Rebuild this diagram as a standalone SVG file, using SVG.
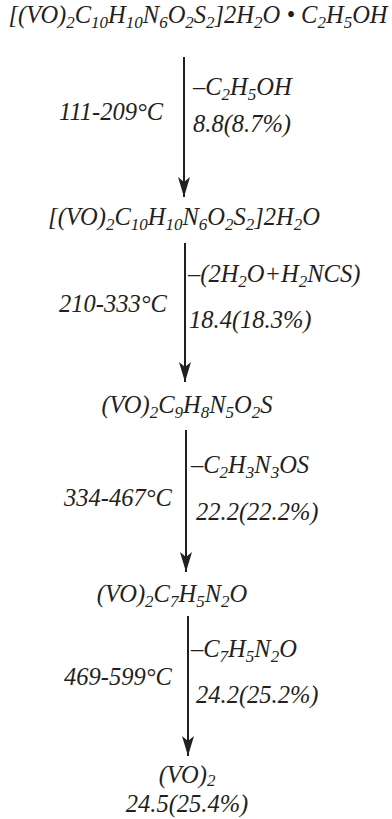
<svg xmlns="http://www.w3.org/2000/svg" width="392" height="819" viewBox="0 0 392 819">
<style>
.t{font-family:"Liberation Serif","Times New Roman",serif;font-style:italic;font-size:24.5px;fill:#231f20}
.s{font-size:17px}
.c{stroke:#231f20;stroke-width:2;fill:none}
</style>
<defs>
<marker id="ah" viewBox="-1 -7 22 14" markerWidth="22" markerHeight="14" refX="20" refY="0" orient="auto" markerUnits="userSpaceOnUse">
<path d="M0,-6 L20,0 L0,6 L5,0 Z" fill="#231f20"/>
</marker>
</defs>
<rect width="392" height="819" fill="#fff"/>
<g id="n1"><text class="t" x="198" y="23" text-anchor="middle">[(VO)<tspan class="s" dy="5">2</tspan><tspan dy="-5">C</tspan><tspan class="s" dy="5">10</tspan><tspan dy="-5">H</tspan><tspan class="s" dy="5">10</tspan><tspan dy="-5">N</tspan><tspan class="s" dy="5">6</tspan><tspan dy="-5">O</tspan><tspan class="s" dy="5">2</tspan><tspan dy="-5">S</tspan><tspan class="s" dy="5">2</tspan><tspan dy="-5">]2H</tspan><tspan class="s" dy="5">2</tspan><tspan dy="-5">O • C</tspan><tspan class="s" dy="5">2</tspan><tspan dy="-5">H</tspan><tspan class="s" dy="5">5</tspan><tspan dy="-5">OH</tspan></text></g>
<g id="n2"><text class="t" x="184" y="225" text-anchor="middle">[(VO)<tspan class="s" dy="5">2</tspan><tspan dy="-5">C</tspan><tspan class="s" dy="5">10</tspan><tspan dy="-5">H</tspan><tspan class="s" dy="5">10</tspan><tspan dy="-5">N</tspan><tspan class="s" dy="5">6</tspan><tspan dy="-5">O</tspan><tspan class="s" dy="5">2</tspan><tspan dy="-5">S</tspan><tspan class="s" dy="5">2</tspan><tspan dy="-5">]2H</tspan><tspan class="s" dy="5">2</tspan><tspan dy="-5">O</tspan></text></g>
<g id="n3"><text class="t" x="187" y="413" text-anchor="middle">(VO)<tspan class="s" dy="5">2</tspan><tspan dy="-5">C</tspan><tspan class="s" dy="5">9</tspan><tspan dy="-5">H</tspan><tspan class="s" dy="5">8</tspan><tspan dy="-5">N</tspan><tspan class="s" dy="5">5</tspan><tspan dy="-5">O</tspan><tspan class="s" dy="5">2</tspan><tspan dy="-5">S</tspan></text></g>
<g id="n4"><text class="t" x="172" y="602" text-anchor="middle">(VO)<tspan class="s" dy="5">2</tspan><tspan dy="-5">C</tspan><tspan class="s" dy="5">7</tspan><tspan dy="-5">H</tspan><tspan class="s" dy="5">5</tspan><tspan dy="-5">N</tspan><tspan class="s" dy="5">2</tspan><tspan dy="-5">O</tspan></text></g>
<g id="n5"><text class="t" x="187" y="783" text-anchor="middle">(VO)<tspan class="s" dy="3">2</tspan></text><text class="t" x="187" y="812" text-anchor="middle">24.5(25.4%)</text></g>
<g id="connectors">
<line class="c" x1="184" y1="57" x2="184" y2="197" marker-end="url(#ah)"/>
<line class="c" x1="185" y1="243" x2="185" y2="382" marker-end="url(#ah)"/>
<line class="c" x1="186" y1="430" x2="186" y2="572" marker-end="url(#ah)"/>
<line class="c" x1="188" y1="616" x2="188" y2="756" marker-end="url(#ah)"/>
</g>
<g id="labels">
<text class="t" x="193" y="95">–C<tspan class="s" dy="5">2</tspan><tspan dy="-5">H</tspan><tspan class="s" dy="5">5</tspan><tspan dy="-5">OH</tspan></text>
<text class="t" x="59" y="120">111-209°C</text>
<text class="t" x="193" y="132">8.8(8.7%)</text>
<text class="t" x="188" y="282">–(2H<tspan class="s" dy="5">2</tspan><tspan dy="-5">O+H</tspan><tspan class="s" dy="5">2</tspan><tspan dy="-5">NCS)</tspan></text>
<text class="t" x="59" y="312">210-333°C</text>
<text class="t" x="189" y="328">18.4(18.3%)</text>
<text class="t" x="191" y="473">–C<tspan class="s" dy="5">2</tspan><tspan dy="-5">H</tspan><tspan class="s" dy="5">3</tspan><tspan dy="-5">N</tspan><tspan class="s" dy="5">3</tspan><tspan dy="-5">OS</tspan></text>
<text class="t" x="64" y="506">334-467°C</text>
<text class="t" x="196" y="520">22.2(22.2%)</text>
<text class="t" x="191" y="657">–C<tspan class="s" dy="5">7</tspan><tspan dy="-5">H</tspan><tspan class="s" dy="5">5</tspan><tspan dy="-5">N</tspan><tspan class="s" dy="5">2</tspan><tspan dy="-5">O</tspan></text>
<text class="t" x="64" y="685">469-599°C</text>
<text class="t" x="196" y="703">24.2(25.2%)</text>
</g>
</svg>
